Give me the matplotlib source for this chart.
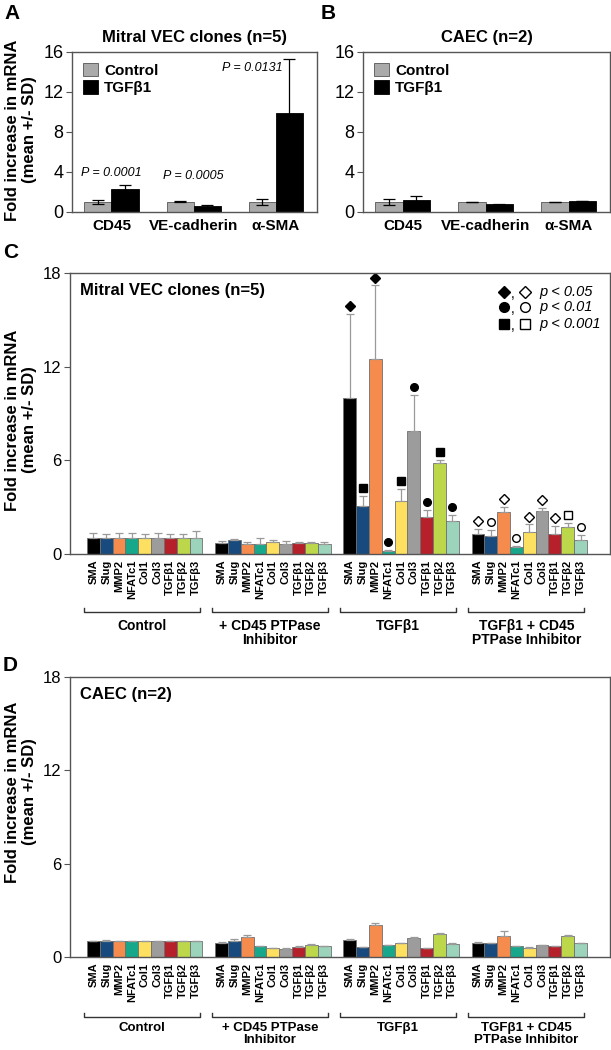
import numpy as np
import matplotlib
matplotlib.use("Agg")
import matplotlib.pyplot as plt
from matplotlib.transforms import blended_transform_factory

plt.rcParams['font.family'] = ['Liberation Sans', 'DejaVu Sans']

# ---- panels A / B data ----
ab_genes = ['CD45', 'VE-cadherin', 'α-SMA']
a_ctrl = [1.0, 1.03, 1.0]
a_ctrl_sd = [0.23, 0.07, 0.33]
a_tgf = [2.27, 0.57, 9.9]
a_tgf_sd = [0.46, 0.13, 5.37]
a_pvals = ['P = 0.0001', 'P = 0.0005', 'P = 0.0131']

b_ctrl = [1.0, 1.02, 1.0]
b_ctrl_sd = [0.33, 0.02, 0.03]
b_tgf = [1.17, 0.77, 1.1]
b_tgf_sd = [0.43, 0.02, 0.03]

# ---- panels C / D data ----
genes = ['SMA', 'Slug', 'MMP2', 'NFATc1', 'Col1', 'Col3', 'TGFβ1', 'TGFβ2', 'TGFβ3']
gene_colors = ['#000000', '#184a7e', '#f58b4c', '#17a78b', '#fde05f',
               '#9c9c9c', '#b5202a', '#bcd84a', '#9bd3bb']
groups = ['Control', '+ CD45 PTPase\nInhibitor', 'TGFβ1', 'TGFβ1 + CD45\nPTPase Inhibitor']

c_vals = [[1.0, 1.0, 1.0, 1.0, 1.0, 1.0, 1.0, 1.0, 1.0],
          [0.68, 0.9, 0.62, 0.62, 0.75, 0.64, 0.68, 0.68, 0.64],
          [10.0, 3.08, 12.5, 0.19, 3.42, 7.9, 2.37, 5.81, 2.14],
          [1.26, 1.15, 2.67, 0.47, 1.39, 2.76, 1.3, 1.73, 0.9]]
c_sd = [[0.32, 0.3, 0.37, 0.33, 0.31, 0.35, 0.31, 0.27, 0.47],
        [0.15, 0.08, 0.15, 0.38, 0.15, 0.19, 0.1, 0.06, 0.15],
        [5.4, 0.64, 4.7, 0.07, 0.77, 2.3, 0.47, 0.24, 0.34],
        [0.36, 0.39, 0.36, 0.06, 0.51, 0.21, 0.52, 0.26, 0.32]]
# significance markers: (group, gene, marker, filled)
c_sig = [(2, 0, 'D', True), (2, 1, 's', True), (2, 2, 'D', True), (2, 3, 'o', True),
         (2, 4, 's', True), (2, 5, 'o', True), (2, 6, 'o', True), (2, 7, 's', True),
         (2, 8, 'o', True),
         (3, 0, 'D', False), (3, 1, 'o', False), (3, 2, 'D', False), (3, 3, 'o', False),
         (3, 4, 'D', False), (3, 5, 'D', False), (3, 6, 'D', False), (3, 7, 's', False),
         (3, 8, 'o', False)]

d_vals = [[1.02, 1.0, 1.0, 1.0, 1.0, 1.0, 1.0, 1.0, 1.0],
          [0.9, 1.05, 1.28, 0.7, 0.58, 0.54, 0.66, 0.79, 0.69],
          [1.09, 0.64, 2.08, 0.77, 0.88, 1.22, 0.56, 1.48, 0.86],
          [0.88, 0.88, 1.35, 0.7, 0.58, 0.75, 0.69, 1.37, 0.88]]
d_sd = [[0.03, 0.08, 0.03, 0.03, 0.03, 0.03, 0.03, 0.03, 0.03],
        [0.06, 0.13, 0.15, 0.02, 0.02, 0.02, 0.04, 0.04, 0.02],
        [0.06, 0.02, 0.1, 0.02, 0.02, 0.04, 0.02, 0.04, 0.02],
        [0.08, 0.02, 0.3, 0.02, 0.06, 0.02, 0.02, 0.04, 0.04]]

fig = plt.figure(figsize=(6.11, 10.5), dpi=100)
W, H = 611.0, 1050.0


def px_axes(l, t, r, b):
    return fig.add_axes([l / W, 1 - b / H, (r - l) / W, (b - t) / H])


def style(ax, ysize):
    for s in ax.spines.values():
        s.set_color('#555555')
        s.set_linewidth(1.0)
    ax.tick_params(axis='y', direction='out', length=4, color='#555555',
                   labelsize=ysize, pad=2)
    ax.tick_params(axis='x', length=0)


def panel_ab(ax, ctrl, ctrl_sd, tgf, tgf_sd, title):
    x = np.arange(len(ab_genes))
    w = 0.33
    ax.bar(x - w / 2, ctrl, w, yerr=ctrl_sd, color='#aaaaaa', edgecolor='#555555',
           linewidth=0.6, capsize=4, error_kw=dict(ecolor='black', elinewidth=0.9, capthick=0.9),
           label='Control')
    ax.bar(x + w / 2, tgf, w, yerr=tgf_sd, color='black', edgecolor='black',
           linewidth=0.6, capsize=4, error_kw=dict(ecolor='black', elinewidth=0.9, capthick=0.9),
           label='TGFβ1')
    ax.set_xlim(-0.48, 2.5)
    ax.set_ylim(0, 16)
    ax.set_yticks([0, 4, 8, 12, 16])
    ax.set_xticks(x)
    ax.set_xticklabels(ab_genes, fontsize=11, fontweight='bold')
    ax.tick_params(axis='x', pad=5)
    ax.set_title(title, fontsize=12, fontweight='bold', pad=7)
    ax.legend(loc='upper left', frameon=False, handlelength=1.0, handleheight=1.0,
              handletextpad=0.4, borderaxespad=0.3, labelspacing=0.15,
              prop=dict(size=11, weight='bold'))
    style(ax, 13)
    return x, w


# ---- A ----
axA = px_axes(72, 52, 317, 212)
x, w = panel_ab(axA, a_ctrl, a_ctrl_sd, a_tgf, a_tgf_sd, 'Mitral VEC clones (n=5)')
axA.text(x[0], a_tgf[0] + a_tgf_sd[0] + 0.6, a_pvals[0], ha='center', va='bottom',
         fontsize=9, style='italic')
axA.text(x[1], a_ctrl[1] + 2.0, a_pvals[1], ha='center', va='bottom',
         fontsize=9, style='italic')
axA.text(x[2] + w / 2 - 0.08, a_tgf[2] + a_tgf_sd[2] - 0.3, a_pvals[2], ha='right', va='top',
         fontsize=9, style='italic')

# ---- B ----
axB = px_axes(363, 52, 610, 212)
panel_ab(axB, b_ctrl, b_ctrl_sd, b_tgf, b_tgf_sd, 'CAEC (n=2)')


def panel_cd(ax, vals, sds, title, sig=None):
    xt = []
    for g in range(len(groups)):
        pos = g * 10 + np.arange(len(genes))
        xt.extend(pos)
        ax.bar(pos, vals[g], 1.0, color=gene_colors, edgecolor='#707070', linewidth=0.6)
        ax.errorbar(pos, vals[g], yerr=[np.zeros(len(genes)), sds[g]], fmt='none',
                    ecolor='#9a9a9a', elinewidth=0.9, capsize=3, capthick=0.9)
    if sig:
        for g, i, m, filled in sig:
            yy = vals[g][i] + sds[g][i] + 0.5
            ax.plot(g * 10 + i, yy, marker=m, ms=5.5 if m != 'D' else 5,
                    mfc='black' if filled else 'white', mec='black', mew=1.0, ls='none')
    ax.set_xlim(-1.83, 40.3)
    ax.set_ylim(0, 18)
    ax.set_yticks([0, 6, 12, 18])
    ax.set_xticks(xt)
    ax.set_xticklabels(genes * len(groups), rotation=90, fontsize=8, fontweight='bold')
    ax.tick_params(axis='x', pad=4)
    style(ax, 12)
    ax.text(0.018, 0.965, title, transform=ax.transAxes, fontsize=12, fontweight='bold',
            ha='left', va='top')
    return ax


def brackets(ax, y_line, y_text, fs):
    tr = blended_transform_factory(ax.transData, ax.transAxes)
    for g, name in enumerate(groups):
        x0, x1 = g * 10 - 0.75, g * 10 + 8.3
        ax.plot([x0, x0, x1, x1], [y_line + 0.014, y_line, y_line, y_line + 0.014],
                color='#333333', lw=1.0, transform=tr, clip_on=False)
        ax.text((x0 + x1) / 2, y_text, name, transform=tr, ha='center', va='top',
                fontsize=fs, fontweight='bold', linespacing=0.95)


# ---- C ----
axC = px_axes(70, 273, 610, 554)
panel_cd(axC, c_vals, c_sd, 'Mitral VEC clones (n=5)', sig=c_sig)
brackets(axC, -0.205, -0.232, 10)
leg_rows = [('D', 'p < 0.05', 0.932), ('o', 'p < 0.01', 0.879), ('s', 'p < 0.001', 0.818)]
for m, txt, yy in leg_rows:
    ms = 7 if m != 'D' else 6.5
    axC.plot(0.804, yy, marker=m, ms=ms, mfc='black', mec='black', transform=axC.transAxes,
             clip_on=False)
    axC.text(0.819, yy - 0.008, ',', transform=axC.transAxes, fontsize=10, ha='center', va='center')
    axC.plot(0.843, yy, marker=m, ms=ms, mfc='white', mec='black', mew=1.0,
             transform=axC.transAxes, clip_on=False)
    axC.text(0.870, yy, txt, transform=axC.transAxes, fontsize=10.5, style='italic',
             ha='left', va='center')

# ---- D ----
axD = px_axes(70, 677, 610, 957)
panel_cd(axD, d_vals, d_sd, 'CAEC (n=2)')
brackets(axD, -0.214, -0.232, 9.5)

# y labels
ylab = 'Fold increase in mRNA\n(mean +/- SD)'
for yc in (130, 420, 792):
    fig.text(21 / W, 1 - yc / H, ylab, rotation=90, ha='center', va='center',
             fontsize=12, fontweight='bold', linespacing=1.2)

# panel letters
for lab, xx, yy in (('A', 4, 4), ('B', 321, 4), ('C', 3, 243), ('D', 3, 656)):
    fig.text(xx / W, 1 - yy / H, lab, ha='left', va='top', fontsize=15, fontweight='bold')

fig.savefig('out.png', dpi=100)
